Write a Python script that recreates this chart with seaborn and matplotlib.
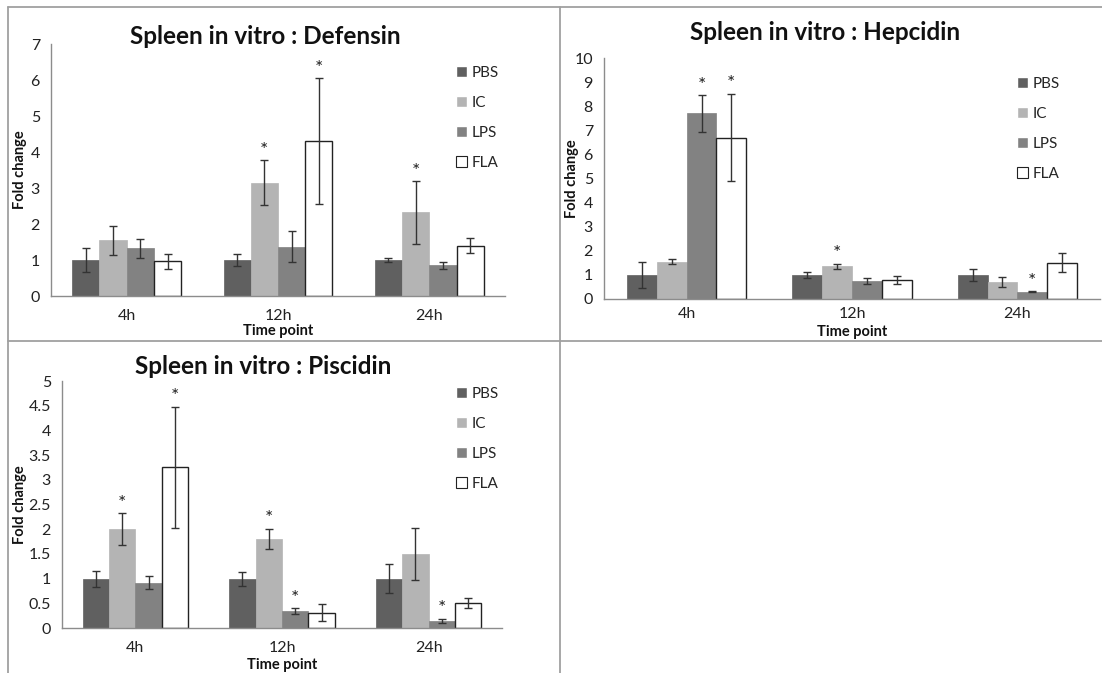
import matplotlib
matplotlib.use("Agg")
import matplotlib.pyplot as plt
from matplotlib.lines import Line2D
import seaborn as sns
import pandas as pd

# Dados - linhas: PBS, IC, LPS, FLA ; colunas: 4h, 12h, 24h
time_points = ["4h", "12h", "24h"]
treatments = ["PBS", "IC", "LPS", "FLA"]

defensin_mean = [[1.0, 1.0, 1.0], [1.55, 3.15, 2.32], [1.32, 1.37, 0.85], [0.97, 4.30, 1.40]]
defensin_err = [[0.32, 0.17, 0.05], [0.40, 0.63, 0.88], [0.27, 0.43, 0.10], [0.21, 1.75, 0.21]]
defensin_star = [[0, 0, 0], [0, 1, 1], [0, 0, 0], [0, 1, 0]]

hepcidin_mean = [[1.0, 1.0, 1.0], [1.55, 1.35, 0.72], [7.70, 0.75, 0.30], [6.70, 0.80, 1.50]]
hepcidin_err = [[0.54, 0.12, 0.24], [0.11, 0.12, 0.21], [0.76, 0.11, 0.03], [1.82, 0.17, 0.40]]
hepcidin_star = [[0, 0, 0], [0, 1, 0], [1, 0, 1], [1, 0, 0]]

piscidin_mean = [[1.0, 1.0, 1.0], [2.0, 1.80, 1.50], [0.92, 0.34, 0.15], [3.25, 0.31, 0.50]]
piscidin_err = [[0.16, 0.14, 0.29], [0.32, 0.21, 0.53], [0.14, 0.06, 0.04], [1.23, 0.17, 0.10]]
piscidin_star = [[0, 0, 0], [1, 1, 0], [0, 1, 1], [1, 0, 0]]

cores = {"PBS": "#606060", "IC": "#b4b4b4", "LPS": "#828282", "FLA": "#ffffff"}
W, H = 1102, 673

sns.set_theme(style="white")
plt.rcParams["font.family"] = ["Lato", "DejaVu Sans"]

fig = plt.figure(figsize=(W / 100, H / 100), dpi=100)


def px_axes(x0, x1, y_top, y_bot):
    return fig.add_axes([x0 / W, 1 - y_bot / H, (x1 - x0) / W, (y_bot - y_top) / H])


def painel(ax, titulo, media, erro, estrela, ymax, yticks, legend_xy, title_xy,
           ylab_x, xlab_y, xpad=9):
    df = pd.DataFrame([
        {"tempo": t, "grupo": g, "valor": media[i][j]}
        for i, g in enumerate(treatments) for j, t in enumerate(time_points)
    ])
    sns.barplot(data=df, x="tempo", y="valor", hue="grupo", order=time_points,
                hue_order=treatments, palette=cores, width=0.72, errorbar=None,
                saturation=1, ax=ax, legend=True)
    for i, g in enumerate(treatments):
        cont = ax.containers[i]
        for j, bar in enumerate(cont):
            if g == "FLA":
                bar.set_edgecolor("#222222")
                bar.set_linewidth(1.0)
            else:
                bar.set_edgecolor(cores[g])
                bar.set_linewidth(0.5)
            xc = bar.get_x() + bar.get_width() / 2
            ax.errorbar(xc, media[i][j], yerr=erro[i][j], color="#333333",
                        lw=1.0, capsize=3.2, capthick=1.0)
            if estrela[i][j]:
                ax.text(xc, media[i][j] + erro[i][j] + ymax * 0.005, "*",
                        ha="center", va="bottom", fontsize=14, color="#222222")
    ax.set_xlim(-0.5, 2.5)
    ax.set_ylim(0, ymax)
    ax.set_yticks(yticks)
    ax.set_yticklabels([f"{v:g}" for v in yticks])
    ax.set_xticks([-0.5, 0.5, 1.5, 2.5], minor=True)
    ax.tick_params(axis="x", which="major", length=0, labelsize=11.5, pad=xpad, colors="#222222")
    ax.tick_params(axis="x", which="minor", length=5, color="#8c8c8c", width=1, direction="out")
    ax.tick_params(axis="y", length=5, color="#8c8c8c", width=1, direction="out",
                   labelsize=11.5, colors="#222222", pad=3)
    for s in ["top", "right"]:
        ax.spines[s].set_visible(False)
    for s in ["left", "bottom"]:
        ax.spines[s].set_color("#8c8c8c")
        ax.spines[s].set_linewidth(1.0)
    ax.set_xlabel("Time point", fontsize=10.5, fontweight="bold", color="#111111")
    ax.set_ylabel("Fold change", fontsize=10.5, fontweight="bold", color="#111111")
    ax.yaxis.set_label_coords(ylab_x / W, 0.5, transform=fig.transFigure)
    ax.yaxis.label.set_verticalalignment("center")
    ax.xaxis.set_label_coords(0.5, 1 - xlab_y / H, transform=fig.transFigure)
    ax.xaxis.label.set_verticalalignment("center")
    # recentrar os rótulos sobre o eixo
    bb = ax.get_position()
    ax.yaxis.label.set_position((ylab_x / W, bb.y0 + bb.height / 2))
    ax.xaxis.label.set_position((bb.x0 + bb.width / 2, 1 - xlab_y / H))
    fig.text(title_xy[0] / W, 1 - title_xy[1] / H, titulo, fontsize=17.5,
             fontweight="bold", color="#111111", ha="center", va="center")
    handles, labels = ax.get_legend_handles_labels()
    for h in handles:
        if h.get_facecolor()[0] == 1.0:
            h.set_edgecolor("#222222")
            h.set_linewidth(0.8)
    ax.legend(handles, labels, loc="upper left", frameon=False,
              bbox_to_anchor=(legend_xy[0] / W, 1 - legend_xy[1] / H),
              bbox_transform=fig.transFigure, fontsize=11, handlelength=0.7,
              handleheight=0.7, handletextpad=0.3, labelspacing=1.05,
              borderpad=0, borderaxespad=0)


ax1 = px_axes(51, 505, 44, 296)
painel(ax1, "Spleen in vitro : Defensin", defensin_mean, defensin_err, defensin_star,
       7, list(range(0, 8)), (456, 66), (265, 37), 20, 331)

ax2 = px_axes(604, 1100, 58, 299)
painel(ax2, "Spleen in vitro : Hepcidin", hepcidin_mean, hepcidin_err, hepcidin_star,
       10, list(range(0, 11)), (1017, 77), (825, 33), 572, 332, xpad=6)

ax3 = px_axes(62, 502, 381, 628)
painel(ax3, "Spleen in vitro : Piscidin", piscidin_mean, piscidin_err, piscidin_star,
       5, [0, 0.5, 1, 1.5, 2, 2.5, 3, 3.5, 4, 4.5, 5], (456, 387), (263, 367), 20, 665)

# bordas dos painéis
borda = dict(color="#a0a0a0", lw=1.3, transform=fig.transFigure)
fig.add_artist(Line2D([8 / W, 1], [1 - 7 / H, 1 - 7 / H], **borda))
fig.add_artist(Line2D([8 / W, 8 / W], [1 - 7 / H, 0], **borda))
fig.add_artist(Line2D([560 / W, 560 / W], [1 - 7 / H, 0], **borda))
fig.add_artist(Line2D([8 / W, 1], [1 - 341 / H, 1 - 341 / H], **borda))

fig.savefig("out.png", dpi=100)
